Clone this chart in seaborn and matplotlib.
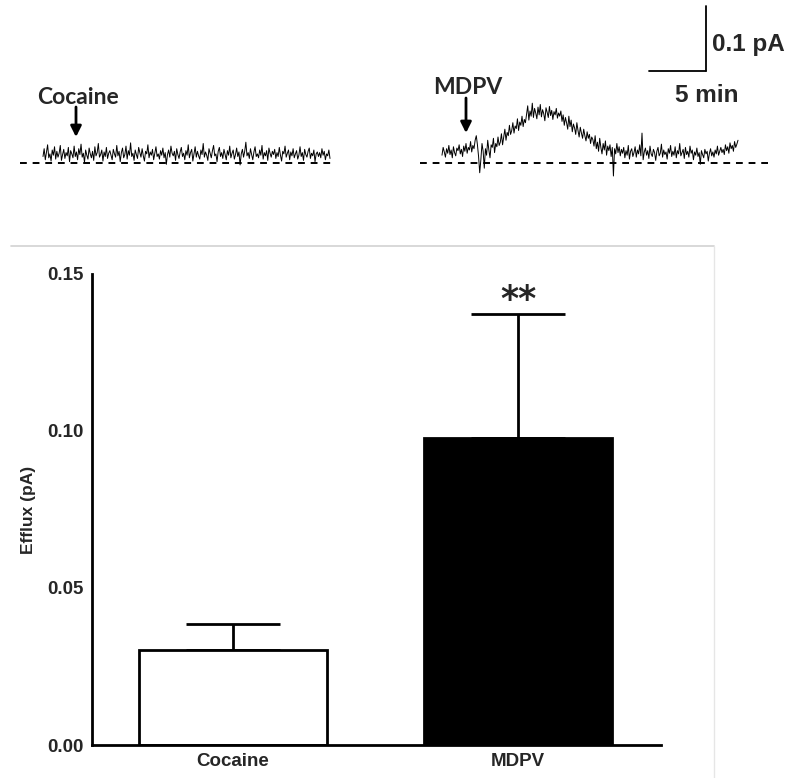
import numpy as np
import pandas as pd
import matplotlib
matplotlib.use("Agg")
import matplotlib.pyplot as plt
from matplotlib.lines import Line2D
import seaborn as sns

# ---------------- data ----------------
categories = ["Cocaine", "MDPV"]
means = [0.0302, 0.0978]
sems = [0.0083, 0.0395]
yticks = [0.00, 0.05, 0.10, 0.15]

# amperometric traces (units of 0.001 pA above baseline)
cocaine_trace = [
    10, 22, 5, 17, 28, 8, 14, 3, 20, 12, 25, 6, 18, 9, 15, 27, 4, 13, 21, 7,
    16, 11, 24, 2, 19, 14, 8, 26, 10, 17, 5, 22, 13, 29, 9, 15, 1, 20, 12, 6,
    23, 14, 8, 18, 4, 25, 11, 16, 30, 9, 13, 20, 3, 17, 10, 24, 7, 15, 19, 12,
    5, 21, 14, 9, 27, 11, 18, 2, 16, 23, 8, 13, 26, 6, 19, 12, 31, 10, 15, 4,
    20, 13, 7, 24, 16, 9, 22, 11, 3, 18, 14, 28, 8, 17, 12, 21, 5, 15, 25, 10,
    14, 6, 19, 12, 23, 8, 16, -2, 13, 20, 9, 26, 15, 11, 18, 4, 22, 13, 7, 17,
    24, 10, 15, 5, 19, 12, 28, 8, 16, 21, 3, 14, 25, 9, 18, 11, 6, 20, 13, 30,
    9, 17, 12, 4, 22, 15, 8, 19, 27, 11, 14, 2, 18, 24, 10, 16, 7, 21, 13, 5,
    19, 12, 26, 8, 15, 20, 6, 13, 23, 10, 17, -3, 14, 21, 9, 18, 32, 11, 16, 7,
    22, 13, 5, 17, 25, 10, 14, 8, 20, 12, 27, 6, 16, 11, 19, 4, 23, 15, 9, 18,
    13, 21, 7, 16, 10, 24, 12, 3, 18, 14, 26, 9, 15, 20, 5, 17, 11, 22, 8, 14,
    19, 6, 12, 25, 10, 16, 4, 21, 13, 9, 18, 23, 7, 15, 11, 20, 2, 14, 17, 10,
    16, 8, 22, 12, 18, 5, 14, 11, 20, 7,
]
mdpv_trace = [
    12, 24, 17, 9, 22, 15, 27, 13, 20, 8, 25, 16, 11, 23, 19, 28, 14, 21, 10, 26,
    18, 30, 15, 24, 20, 33, 17, 27, 22, 35,
    42, 28, 10, -15, 5, 30, 18, -8, 22, 12, 35, 20, 8, 28, 24, 38, 16, 30, 25, 40, 27,
    32, 45, 28, 40, 52, 35, 47, 42, 58, 44, 50, 62, 46, 57, 53, 68, 50, 63, 58, 72,
    56, 67, 62,
    75, 88, 66, 80, 72, 92, 70, 84, 77, 68, 86, 74, 90, 71, 82, 76, 65, 85, 78, 70,
    87, 73, 81, 67, 79, 74, 84, 69, 77, 72,
    80, 64, 74, 58, 70, 62, 52, 72, 56, 66, 48, 60, 54, 44, 62, 50, 40, 55, 46, 38,
    52, 42, 34, 48, 38, 44, 30, 40,
    36, 26, 42, 22, 32, 18, 38, 24, 14, 30, 20, 34, 12, 26, 19, 28, 10, 24, -20, 22,
    14, 30, 16, 25, 11, 21,
    15, 24, 8, 19, 12, 27, 6, 18, 22, 10, 16, 25, 9, 20, 14, 28, 11, 46, 5, 17,
    23, 12, 19, 7, 26, 14, 10, 21, 16, 4, 18, 24, 11, 15, 29, 9, 20, 13, 17, 6,
    22, 15, 27, 10, 18, 12, 25, 8, 19, 14, 30, 11, 16, 21, 7, 24, 13, 18, 9, 26,
    15, 20, 5, 17, 12, 23, 10, 16, -2, 19, 13, 8, 21, 14, 18, 3, 15, 22, 11, 17,
    9, 20, 14, 26, 12, 18, 24, 16, 21, 13, 28, 19, 25, 15, 31, 22, 27, 18, 33, 24,
    29, 35,
]
scale_pA = 0.1
scale_min = 5

# ---------------- figure ----------------
W, H = 791, 778
fig = plt.figure(figsize=(W / 100, H / 100), dpi=100)
sns.set_style("white")
plt.rcParams["font.family"] = ["Liberation Sans", "DejaVu Sans"]

# ---- top traces axes (minutes x pA), 57 px = 5 min, 65 px = 0.1 pA ----
PX_PER_MIN = 57 / 5
PX_PER_PA = 65 / 0.1
BASE_Y = 163
TOP_H = 200
axt = fig.add_axes([0, 1 - TOP_H / H, 1, TOP_H / H])
axt.set_xlim(0, W / PX_PER_MIN)
axt.set_ylim(-(TOP_H - BASE_Y) / PX_PER_PA, BASE_Y / PX_PER_PA)
axt.axis("off")

def mx(px):
    return px / PX_PER_MIN

def my(py):
    return (BASE_Y - py) / PX_PER_PA

coc = np.array(cocaine_trace) / 1000.0
mdp = np.array(mdpv_trace) / 1000.0
t_coc = np.linspace(mx(43), mx(330), len(coc))
t_mdp = np.linspace(mx(442), mx(738), len(mdp))
sns.lineplot(x=t_coc, y=coc, ax=axt, color="black", lw=0.7, sort=False, estimator=None)
sns.lineplot(x=t_mdp, y=mdp, ax=axt, color="black", lw=0.7, sort=False, estimator=None)

# baselines
for x0, x1 in [(20, 335), (420, 768)]:
    axt.plot([mx(x0), mx(x1)], [0, 0], color="black", lw=1.4, ls=(0, (3.5, 3)))

# arrows & labels
for lab, xa, ylab, ytip in [("Cocaine", 76, 97, 137), ("MDPV", 466, 88, 133)]:
    axt.annotate("", xy=(mx(xa), my(ytip)), xytext=(mx(xa), my(ylab + 10)),
                 arrowprops=dict(arrowstyle="-|>", lw=2, color="black", mutation_scale=16,
                                 shrinkA=0, shrinkB=0))
    axt.text(mx(xa + 2), my(ylab), lab, ha="center", va="center", fontsize=16.5,
             fontweight="bold", family=["Lato", "DejaVu Sans"])

# scale bar
sx, sy = 706, 71
axt.plot([mx(sx), mx(sx)], [my(sy), my(sy) + scale_pA], color="black", lw=1.3)
axt.plot([mx(sx) - scale_min, mx(sx)], [my(sy), my(sy)], color="black", lw=1.3)
axt.text(mx(712), my(44), "0.1 pA", ha="left", va="center",
         fontsize=17.5, fontweight="bold")
axt.text(mx(707), my(96), "5 min", ha="center", va="center",
         fontsize=17.5, fontweight="bold")

# ---- bar chart ----
left, right, y0, y15 = 92, 661, 745, 274
ax = fig.add_axes([left / W, (H - y0) / H, (right - left) / W, (y0 - y15) / H])
df = pd.DataFrame({"group": categories, "efflux": means})
sns.barplot(data=df, x="group", y="efflux", hue="group", palette=["white", "black"],
            edgecolor="black", linewidth=2, width=0.66, legend=False, ax=ax, errorbar=None)
ax.errorbar(x=[0, 1], y=means, yerr=[[0, 0], sems], fmt="none", ecolor="black",
            elinewidth=2, capsize=33.5, capthick=2, zorder=0.5)
unit = 285
ax.set_xlim(-(233 - left) / unit, 1 + (right - 518) / unit)
ax.set_ylim(0, 0.15)
ax.set_yticks(yticks)
ax.set_yticklabels([f"{v:.2f}" for v in yticks])
for s in ["top", "right"]:
    ax.spines[s].set_visible(False)
for s in ["left", "bottom"]:
    ax.spines[s].set_linewidth(2)
    ax.spines[s].set_color("black")
ax.tick_params(axis="both", direction="out", length=4, width=1.5, color="black",
               labelsize=13.5, pad=2)
for t in ax.get_xticklabels() + ax.get_yticklabels():
    t.set_fontweight("bold")
ax.set_xlabel("")
ax.set_ylabel("Efflux (pA)", fontsize=12.5, fontweight="bold", labelpad=8)
ax.text(1, 0.1417, "**", ha="center", va="center", fontsize=25, fontweight="bold",
        family="DejaVu Sans")

# panel border (light gray)
fig.add_artist(Line2D([11 / W, 714 / W], [1 - 246 / H, 1 - 246 / H], color="#d2d2d2", lw=1.2))
fig.add_artist(Line2D([714 / W, 714 / W], [1 - 246 / H, 0], color="#e6e6e6", lw=1.0))

fig.savefig("out.png", dpi=100)
